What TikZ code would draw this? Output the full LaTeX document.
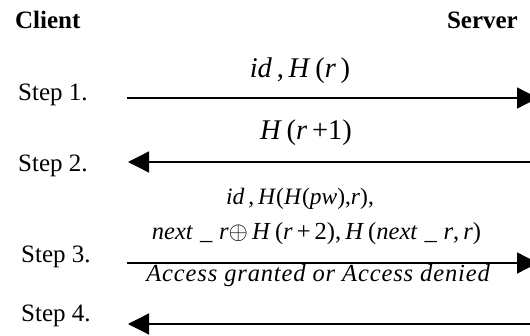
\documentclass[tikz,border=0pt]{standalone}
\usepackage{fontspec}
\setmainfont{Liberation Serif}
\usetikzlibrary{arrows.meta}
\newcommand\vv[1]{\textit{#1}}
\tikzset{
  x=1pt, y=-1pt,
  head/.style={font=\fontsize{25}{30}\selectfont\bfseries, inner sep=0pt},
  steplbl/.style={font=\fontsize{25}{30}\selectfont, inner sep=0pt, anchor=base west},
  msgbig/.style={font=\fontsize{28.5}{32}\selectfont, inner sep=0pt, anchor=base},
  msgsmall/.style={font=\fontsize{24.5}{28}\selectfont, inner sep=0pt, anchor=base},
  msg/.style={line width=1.3pt, -{Triangle[length=21pt,width=21pt]}},
}
\begin{document}
\begin{tikzpicture}
\useasboundingbox (0,0) rectangle (530,336);
\clip (0,0) rectangle (530,336);
\node[head, anchor=base west] (client) at (15,29) {Client};
\node[head, anchor=base east] (server) at (518,29) {Server};
\node[steplbl] (st1) at (18,101) {Step 1.};
\node[steplbl] (st2) at (18,172) {Step 2.};
\node[steplbl] (st3) at (21,263) {Step 3.};
\node[steplbl] (st4) at (21,322) {Step 4.};
\coordinate (c1) at (127,98);  \coordinate (s1) at (538,98);
\coordinate (c2) at (128,162); \coordinate (s2) at (531,162);
\coordinate (c3) at (127,263); \coordinate (s3) at (538,263);
\coordinate (c4) at (128,324); \coordinate (s4) at (531,324);
\draw[msg] (c1) -- (s1);
\draw[msg] (s2) -- (c2);
\draw[msg] (c3) -- (s3);
\draw[msg] (s4) -- (c4);
\node[msgbig] (m1) at (300,78) {\vv{id}\,,\,\vv{H}\,(\vv{r}\,)};
\node[msgbig] (m2) at (306,140) {\vv{H}\,(\vv{r}\,+1)};
\node[msgsmall, font=\fontsize{23.5}{28}\selectfont] (m3a) at (300,205) {\vv{id}\,,\,\vv{H}(\vv{H}(\vv{pw}),\vv{r}),};
\node[msgsmall] (m3b) at (316.5,240) {\vv{next}\;\_\;\vv{r}$\oplus$\,\vv{H}\,(\vv{r}\,+\,2),\,\vv{H}\,(\vv{next}\;\_\;\vv{r},\,\vv{r})};
\node[msgsmall] (m4) at (318.5,282) {\addfontfeature{LetterSpace=3.5}\vv{Access granted or Access denied}};
\end{tikzpicture}
\end{document}
